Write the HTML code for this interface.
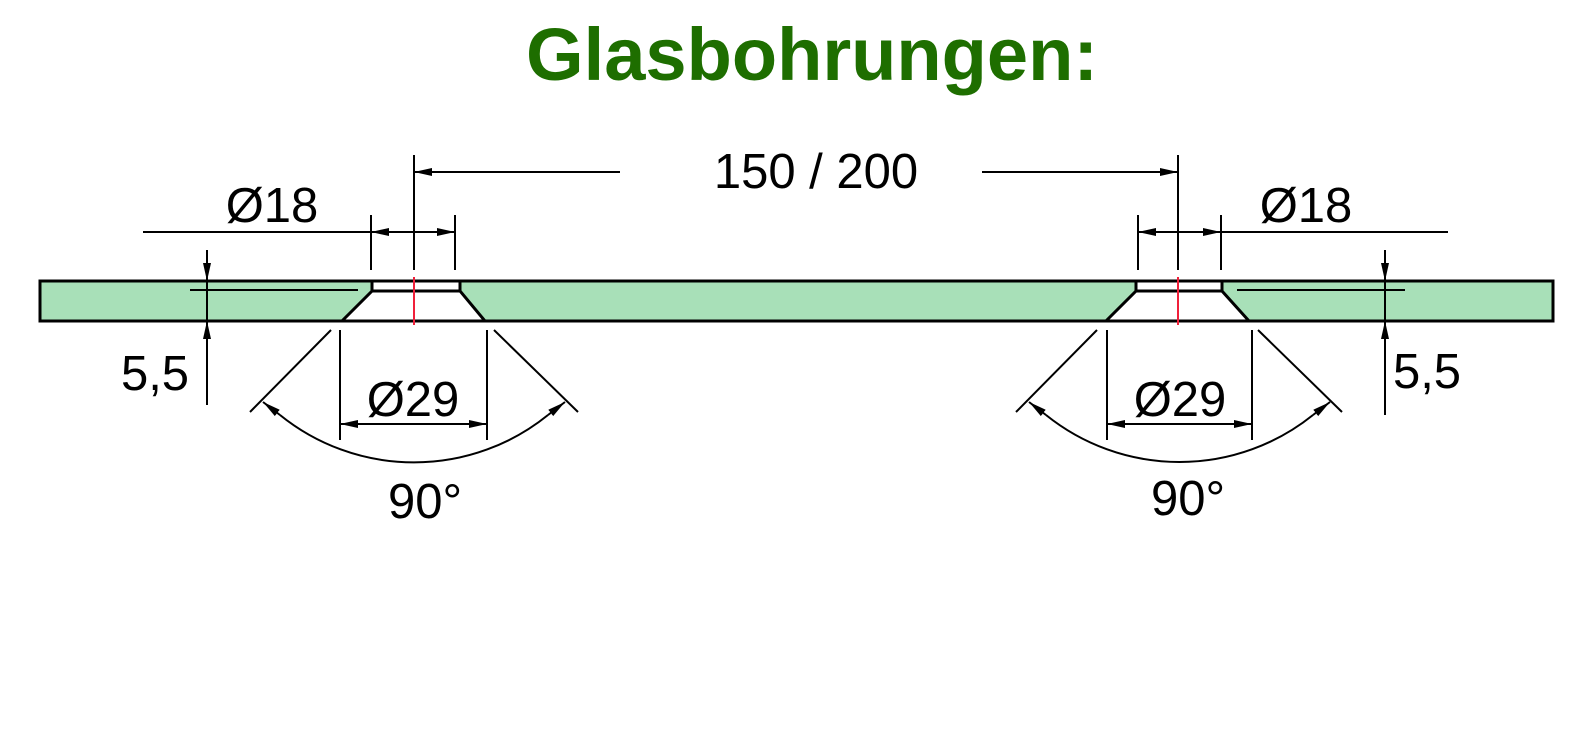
<!DOCTYPE html>
<html><head><meta charset="utf-8"><style>
html,body{margin:0;padding:0;background:#fff;}
svg{display:block;}
text{font-family:"Liberation Sans",sans-serif;fill:#000;}
</style></head><body>
<svg width="1570" height="737" viewBox="0 0 1570 737" xmlns="http://www.w3.org/2000/svg">
<defs>
<marker id="a" viewBox="0 0 10 10" refX="10" refY="5" markerWidth="18" markerHeight="10" markerUnits="userSpaceOnUse" orient="auto-start-reverse" preserveAspectRatio="none"><path d="M0,1 L10,5 L0,9 Z" fill="#000"/></marker>
</defs>
<text x="812" y="80" font-size="74" font-weight="bold" text-anchor="middle" style="fill:#1e6e00" textLength="572" lengthAdjust="spacingAndGlyphs">Glasbohrungen:</text>

<rect x="40" y="281" width="1513" height="40" fill="#a8e0b8" stroke="#000" stroke-width="3"/>

<g stroke="#000" stroke-width="3" fill="#fff">
<path d="M372,281 L460,281 L460,291 L485,321 L342,321 L372,291 Z"/>
<line x1="372" y1="291" x2="460" y2="291"/>
<path d="M1136,281 L1222,281 L1222,291 L1249,321 L1106,321 L1136,291 Z"/>
<line x1="1136" y1="291" x2="1222" y2="291"/>
</g>
<g stroke-width="2" fill="none">
<line x1="414" y1="277" x2="414" y2="325" stroke="#f0203a"/>
<line x1="1178" y1="277" x2="1178" y2="325" stroke="#f0203a"/>
</g>

<g stroke="#000" stroke-width="2" fill="none">
<line x1="414" y1="155" x2="414" y2="270"/>
<line x1="1178" y1="155" x2="1178" y2="270"/>
<line x1="620" y1="172" x2="414" y2="172" marker-end="url(#a)"/>
<line x1="982" y1="172" x2="1178" y2="172" marker-end="url(#a)"/>

<line x1="371" y1="215" x2="371" y2="270"/>
<line x1="455" y1="215" x2="455" y2="270"/>
<line x1="143" y1="232" x2="371" y2="232"/>
<line x1="400" y1="232" x2="371" y2="232" marker-end="url(#a)"/>
<line x1="426" y1="232" x2="455" y2="232" marker-end="url(#a)"/>
<line x1="400" y1="232" x2="426" y2="232"/>

<line x1="1138" y1="215" x2="1138" y2="270"/>
<line x1="1221" y1="215" x2="1221" y2="270"/>
<line x1="1221" y1="232" x2="1448" y2="232"/>
<line x1="1166" y1="232" x2="1138" y2="232" marker-end="url(#a)"/>
<line x1="1193" y1="232" x2="1221" y2="232" marker-end="url(#a)"/>
<line x1="1166" y1="232" x2="1193" y2="232"/>

<line x1="190" y1="290" x2="358" y2="290"/>
<line x1="207" y1="250" x2="207" y2="281" marker-end="url(#a)"/>
<line x1="207" y1="405" x2="207" y2="321" marker-end="url(#a)"/>
<line x1="207" y1="281" x2="207" y2="321"/>
<line x1="1237" y1="290" x2="1405" y2="290"/>
<line x1="1385" y1="250" x2="1385" y2="281" marker-end="url(#a)"/>
<line x1="1385" y1="415" x2="1385" y2="321" marker-end="url(#a)"/>
<line x1="1385" y1="281" x2="1385" y2="321"/>

<line x1="340" y1="330" x2="340" y2="440"/>
<line x1="487" y1="330" x2="487" y2="440"/>
<line x1="413" y1="424" x2="340" y2="424" marker-end="url(#a)"/>
<line x1="413" y1="424" x2="487" y2="424" marker-end="url(#a)"/>
<line x1="1107" y1="330" x2="1107" y2="440"/>
<line x1="1252" y1="330" x2="1252" y2="440"/>
<line x1="1180" y1="424" x2="1107" y2="424" marker-end="url(#a)"/>
<line x1="1180" y1="424" x2="1252" y2="424" marker-end="url(#a)"/>

<line x1="331" y1="330" x2="250" y2="412"/>
<line x1="494" y1="330" x2="578" y2="412"/>
<path d="M280,415 A213,213 0 0 0 548,415"/>
<path d="M280,415 L263,402" marker-end="url(#a)"/>
<path d="M548,415 L565,402" marker-end="url(#a)"/>
<line x1="1097" y1="330" x2="1016" y2="412"/>
<line x1="1258" y1="330" x2="1342" y2="412"/>
<path d="M1046,415 A213,213 0 0 0 1313,415"/>
<path d="M1046,415 L1029,402" marker-end="url(#a)"/>
<path d="M1313,415 L1330,402" marker-end="url(#a)"/>
</g>

<g font-size="49">
<text x="816" y="188" text-anchor="middle">150 / 200</text>
<text x="272" y="222" text-anchor="middle">Ø18</text>
<text x="1306" y="222" text-anchor="middle">Ø18</text>
<text x="155" y="390" text-anchor="middle">5,5</text>
<text x="1427" y="388" text-anchor="middle">5,5</text>
<text x="413" y="416" text-anchor="middle">Ø29</text>
<text x="1180" y="416" text-anchor="middle">Ø29</text>
<text x="425" y="518" text-anchor="middle">90°</text>
<text x="1188" y="515" text-anchor="middle">90°</text>
</g>
</svg>
</body></html>
